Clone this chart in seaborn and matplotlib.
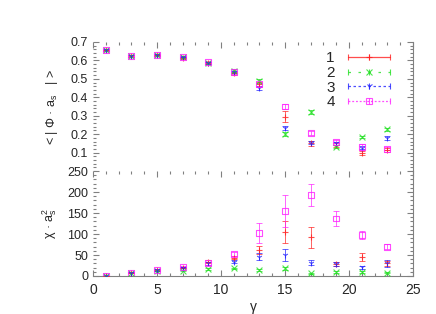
import numpy as np
import pandas as pd
import matplotlib
matplotlib.use("Agg")
import matplotlib.pyplot as plt
import seaborn as sns
from matplotlib.markers import MarkerStyle
from matplotlib.lines import Line2D
from matplotlib.legend_handler import HandlerLine2D, HandlerTuple
from matplotlib.ticker import MultipleLocator

# ---------------- data ----------------
gamma = [1, 3, 5, 7, 9, 11, 13, 15, 17, 19, 21, 23]
series_names = ["1", "2", "3", "4"]

phi_1 = [0.655, 0.624, 0.628, 0.615, 0.588, 0.530, 0.470, 0.295, 0.150, 0.140, 0.098, 0.115]
phi_2 = [0.655, 0.625, 0.628, 0.616, 0.585, 0.545, 0.490, 0.200, 0.320, 0.132, 0.185, 0.226]
phi_3 = [0.656, 0.625, 0.630, 0.616, 0.588, 0.538, 0.452, 0.232, 0.154, 0.150, 0.127, 0.180]
phi_4 = [0.657, 0.624, 0.630, 0.618, 0.590, 0.535, 0.470, 0.350, 0.205, 0.158, 0.130, 0.120]
phi_err_1 = [0.004, 0.004, 0.004, 0.005, 0.005, 0.008, 0.012, 0.028, 0.015, 0.010, 0.010, 0.010]
phi_err_2 = [0.003, 0.004, 0.004, 0.004, 0.005, 0.006, 0.010, 0.012, 0.010, 0.008, 0.006, 0.010]
phi_err_3 = [0.004, 0.004, 0.004, 0.005, 0.005, 0.007, 0.010, 0.012, 0.010, 0.008, 0.008, 0.012]
phi_err_4 = [0.004, 0.004, 0.004, 0.005, 0.005, 0.007, 0.010, 0.015, 0.012, 0.008, 0.015, 0.008]

chi_1 = [0.5, 8, 14, 20, 34, 44, 62, 105, 92, 29, 45, 30]
chi_2 = [0.5, 7, 13, 13, 16, 18, 14, 18, 6, 10, 9, 8]
chi_3 = [0.5, 8, 14, 20, 30, 34, 46, 50, 32, 29, 21, 30]
chi_4 = [0.5, 8, 15, 22, 30, 52, 102, 155, 192, 137, 98, 70]
chi_err_1 = [0.3, 1, 1.5, 2, 3, 4, 10, 27, 25, 4, 10, 5]
chi_err_2 = [0.3, 1, 1, 2, 2, 2, 3, 4, 2, 2, 2, 2]
chi_err_3 = [0.3, 1, 1.5, 2, 3, 4, 8, 15, 5, 4, 4, 8]
chi_err_4 = [0.3, 1, 1.5, 3, 4, 5, 24, 38, 26, 18, 10, 6]

phi_vals = [phi_1, phi_2, phi_3, phi_4]
phi_errs = [phi_err_1, phi_err_2, phi_err_3, phi_err_4]
chi_vals = [chi_1, chi_2, chi_3, chi_4]
chi_errs = [chi_err_1, chi_err_2, chi_err_3, chi_err_4]

rows = []
for name, pv, pe, cv, ce in zip(series_names, phi_vals, phi_errs, chi_vals, chi_errs):
    for g, a, b, c, d in zip(gamma, pv, pe, cv, ce):
        rows.append(dict(series=name, gamma=g, phi=a, phi_err=b, chi=c, chi_err=d))
df = pd.DataFrame(rows)

# ---------------- style ----------------
sns.set_style("white")
plt.rcParams["font.family"] = ["Liberation Sans", "DejaVu Sans"]
plt.rcParams["mathtext.fontset"] = "custom"
plt.rcParams["mathtext.rm"] = "Liberation Sans"
plt.rcParams["mathtext.it"] = "Liberation Sans"

colors = {"1": "#ff2020", "2": "#20e020", "3": "#2020ff", "4": "#ff20ff"}
markers = {"1": MarkerStyle("+"), "2": MarkerStyle("x"), "3": MarkerStyle("1"),
           "4": MarkerStyle("s", fillstyle="none")}
lstyles = {"1": "-", "2": (0, (2, 6)), "3": (0, (2, 2)), "4": (0, (1.5, 1.5))}
gray = "#808080"

fig = plt.figure(figsize=(4.36, 3.14), dpi=100)
left, right = 93 / 436, 413 / 436
ax_top = fig.add_axes([left, 1 - 171 / 314, right - left, (171 - 42) / 314])
ax_bot = fig.add_axes([left, 1 - 276 / 314, right - left, (276 - 171) / 314])

for ax, col, ecol in [(ax_top, "phi", "phi_err"), (ax_bot, "chi", "chi_err")]:
    for name in series_names:
        sub = df[df.series == name]
        ax.errorbar(sub.gamma, sub[col], yerr=sub[ecol], fmt="none",
                    ecolor=colors[name], elinewidth=0.7, capsize=2, capthick=0.7,
                    alpha=0.7, zorder=2)
        sns.scatterplot(x=sub.gamma, y=sub[col], marker=markers[name],
                        color=colors[name], s=18, linewidth=0.8, ax=ax,
                        legend=False, zorder=3, alpha=0.8)
    ax.set_xlim(0, 25)
    ax.set_xlabel("")
    ax.set_ylabel("")
    ax.xaxis.set_major_locator(MultipleLocator(5))
    ax.xaxis.set_minor_locator(MultipleLocator(1))
    for s in ["left", "top"]:
        ax.spines[s].set_visible(False)
    ax.spines["right"].set_color(gray)
    ax.spines["right"].set_linewidth(0.8)
    ax.spines["bottom"].set_color(gray)
    ax.spines["bottom"].set_linewidth(0.8)
    ax.tick_params(which="both", direction="in", top=True, right=True,
                   left=True, color=gray, width=0.8, labelsize=8)
    ax.tick_params(which="major", length=4)
    ax.tick_params(which="minor", length=2)

# top panel
ax_top.set_ylim(0, 0.7)
ax_top.set_yticks([0.1, 0.2, 0.3, 0.4, 0.5, 0.6, 0.7])
ax_top.yaxis.set_minor_locator(MultipleLocator(0.02))
ax_top.tick_params(which="both", bottom=False, labelbottom=False)
ax_top.spines["bottom"].set_visible(False)
ax_top.tick_params(axis="y", labelsize=9)
ax_top.set_ylabel("< | Φ · a$_\\mathrm{s}$   | >", fontsize=9, labelpad=8)

# bottom panel
ax_bot.set_ylim(0, 250)
ax_bot.set_yticks([0, 50, 100, 150, 200, 250])
ax_bot.yaxis.set_minor_locator(MultipleLocator(10))
ax_bot.tick_params(which="both", bottom=True)
ax_bot.tick_params(axis="y", labelsize=9)
ax_bot.tick_params(axis="x", labelsize=10, pad=5)
ax_bot.set_ylabel("χ · a$_\\mathrm{s}^\\mathrm{2}$", fontsize=9, labelpad=6)
ax_bot.set_xlabel("γ", fontsize=10, labelpad=2)

# legend in gnuplot style
handles = []
hmap = {}
for name in series_names:
    line = Line2D([], [], color=colors[name], linestyle=lstyles[name], linewidth=0.9,
                  marker="|", markersize=5, markeredgewidth=0.8, alpha=0.8)
    mk = Line2D([], [], color=colors[name], linestyle="none", marker=markers[name],
                markersize=4.5, markeredgewidth=0.8, alpha=0.8)
    hmap[mk] = HandlerLine2D(numpoints=1)
    handles.append((line, mk))
hmap[tuple] = HandlerTuple(ndivide=1)
ax_top.legend(handles, series_names, loc="upper right", frameon=False,
              markerfirst=False, numpoints=3, handlelength=3.3, fontsize=11,
              handler_map=hmap, labelspacing=0.05, borderaxespad=0.2,
              handletextpad=0.6, bbox_to_anchor=(0.97, 1.0))

fig.savefig("out.png", dpi=100)
